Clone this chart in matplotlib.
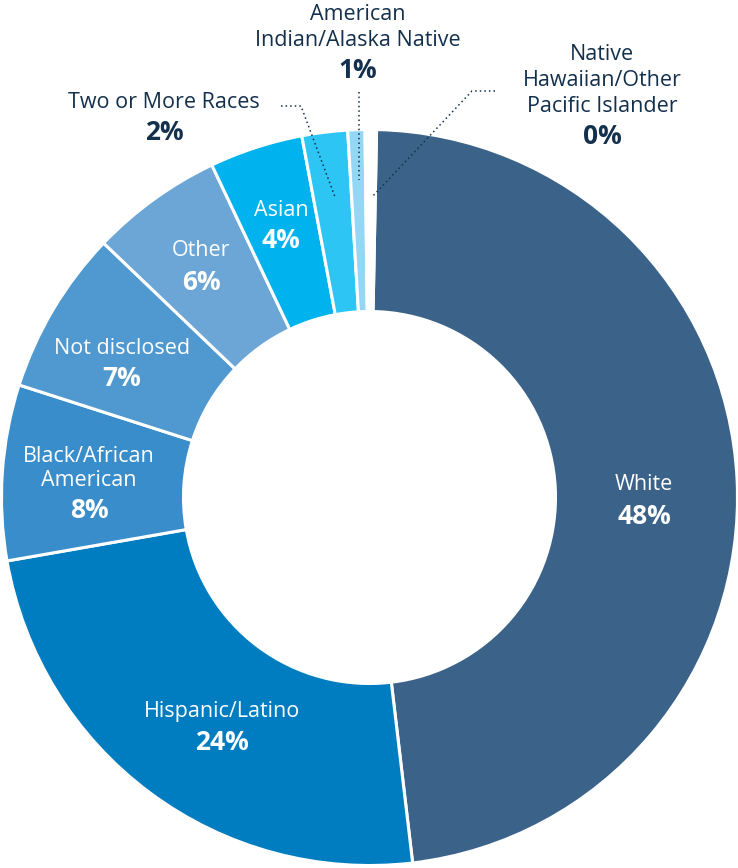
import matplotlib
matplotlib.use("Agg")
import matplotlib.pyplot as plt

plt.rcParams['font.family'] = ['Open Sans', 'DejaVu Sans']

categories = ["White", "Hispanic/Latino", "Black/African American", "Not disclosed",
              "Other", "Asian", "Two or More Races", "American Indian/Alaska Native",
              "Native Hawaiian/Other Pacific Islander"]
values = [47.8, 24.1, 7.7, 7.2, 5.8, 4.1, 2.0, 0.75, 0.5]
pct_labels = ["48%", "24%", "8%", "7%", "6%", "4%", "2%", "1%", "0%"]
colors = ["#3B6389", "#007CC0", "#3A8DCB", "#4F99D0", "#6CA6D6",
          "#00B2EE", "#2CC5F4", "#93D7F5", "#FFFFFF"]

W, H = 738, 868
fig = plt.figure(figsize=(W / 100, H / 100), dpi=100)
ax = fig.add_axes([0, 0, 1, 1])

cx, cy = 369.5, H - 497.5
R, r_in = 368, 186
ax.pie(values, colors=colors, startangle=88.9, counterclock=False,
       center=(cx, cy), radius=R, frame=True,
       wedgeprops=dict(width=R - r_in, edgecolor='white', linewidth=2.2))
ax.set_xlim(0, W)
ax.set_ylim(0, H)
ax.set_aspect('equal')
ax.axis('off')

def Y(y):
    return H - y

white = "white"
navy = "#13304D"
nsz, psz = 15.5, 19

# inside labels: (name lines, y of name lines, x, y of pct)
inside = [
    (["White"], [484], 644, 516, 0),
    (["Hispanic/Latino"], [712], 222, 742, 1),
    (["Black/African", "American"], [456, 481], 89, 510, 2),
    (["Not disclosed"], [349], 122, 379, 3),
    (["Other"], [251], 201, 282, 4),
    (["Asian"], [211], 281, 241, 5),
]
for names, ys, x, yp, i in inside:
    for n, yy in zip(names, ys):
        ax.text(x, Y(yy), n, color=white, fontsize=nsz, ha='center', va='center')
    ax.text(x, Y(yp), pct_labels[i], color=white, fontsize=psz,
            fontweight='bold', ha='center', va='center')

outside = [
    (["Two or More Races"], [103], 164, 133, 6),
    (["American", "Indian/Alaska Native"], [14, 40], 358, 70, 7),
    (["Native", "Hawaiian/Other", "Pacific Islander"], [55, 81, 107], 602, 136, 8),
]
for names, ys, x, yp, i in outside:
    for n, yy in zip(names, ys):
        ax.text(x, Y(yy), n, color=navy, fontsize=nsz, ha='center', va='center')
    ax.text(x, Y(yp), pct_labels[i], color=navy, fontsize=psz,
            fontweight='bold', ha='center', va='center')

# leader lines
leaders = [
    [(281, 106), (301, 106), (335, 197)],
    [(359, 92), (359, 180)],
    [(495, 91), (472, 91), (372, 197)],
]
for pts in leaders:
    xs = [p[0] for p in pts]
    ys = [Y(p[1]) for p in pts]
    ax.plot(xs, ys, color=navy, linewidth=1.1, linestyle=(0, (1, 2)))

fig.savefig("out.png", dpi=100)
